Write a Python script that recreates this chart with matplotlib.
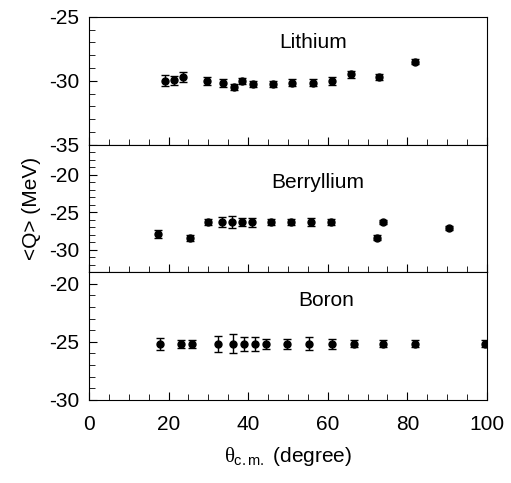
import numpy as np
import matplotlib
matplotlib.use("Agg")
from matplotlib import pyplot as plt
from matplotlib.ticker import MultipleLocator

plt.rcParams['font.family'] = ['Liberation Sans', 'DejaVu Sans']
plt.rcParams['axes.unicode_minus'] = False
plt.rcParams['mathtext.fontset'] = 'custom'
plt.rcParams['mathtext.rm'] = 'Liberation Sans'
plt.rcParams['mathtext.it'] = 'Liberation Serif'

# Lithium
li_x = [19.1, 21.4, 23.6, 29.6, 33.8, 36.5, 38.4, 41.2, 46.2, 50.9, 56.2, 61.0, 65.9, 72.9, 81.8]
li_y = [-30.0, -29.95, -29.7, -30.0, -30.2, -30.47, -30.0, -30.26, -30.26, -30.15, -30.15, -30.0, -29.5, -29.7, -28.5]
li_e = [0.45, 0.35, 0.4, 0.3, 0.3, 0.25, 0.25, 0.25, 0.25, 0.25, 0.3, 0.3, 0.3, 0.25, 0.2]

# Berryllium
be_x = [17.4, 25.4, 30.0, 33.5, 36.0, 38.4, 40.9, 45.7, 50.8, 55.9, 60.9, 72.3, 73.9, 90.4]
be_y = [-27.93, -28.4, -26.33, -26.33, -26.33, -26.33, -26.33, -26.33, -26.33, -26.33, -26.33, -28.4, -26.33, -27.13]
be_e = [0.5, 0.4, 0.4, 0.7, 0.8, 0.5, 0.6, 0.4, 0.4, 0.5, 0.4, 0.3, 0.3, 0.3]

# Boron
b_x = [17.9, 23.2, 25.9, 32.4, 36.3, 38.9, 41.6, 44.4, 49.8, 55.3, 61.1, 66.7, 74.0, 82.0, 99.6]
b_y = [-25.17, -25.17, -25.17, -25.17, -25.17, -25.17, -25.17, -25.17, -25.17, -25.17, -25.17, -25.17, -25.17, -25.17, -25.17]
b_e = [0.53, 0.33, 0.35, 0.72, 0.82, 0.6, 0.63, 0.46, 0.46, 0.55, 0.46, 0.3, 0.3, 0.3, 0.3]

names = ['Lithium', 'Berryllium', 'Boron']
ylims = [(-35, -25), (-33, -16), (-30, -19)]
yticks = [[-35, -30, -25], [-30, -25, -20], [-30, -25, -20]]
name_pos = [(56.3, 0.8), (57.4, 0.7), (59.5, 0.775)]
data = [(li_x, li_y, li_e), (be_x, be_y, be_e), (b_x, b_y, b_e)]

fig = plt.figure(figsize=(5.11, 4.83), dpi=100)
gs = fig.add_gridspec(3, 1, left=0.174, right=0.953, top=0.965, bottom=0.172, hspace=0)

for i in range(3):
    ax = fig.add_subplot(gs[i])
    x, y, e = data[i]
    ax.errorbar(x, y, yerr=e, fmt='o', color='black', ms=5, capsize=3, elinewidth=1, capthick=1)
    ax.set_xlim(0, 100)
    ax.set_ylim(*ylims[i])
    ax.set_yticks(yticks[i])
    ax.yaxis.set_minor_locator(MultipleLocator(1))
    ax.xaxis.set_major_locator(MultipleLocator(20))
    ax.xaxis.set_minor_locator(MultipleLocator(5))
    ax.tick_params(which='both', direction='in', top=False, right=False, labelsize=15)
    ax.tick_params(which='major', length=6)
    ax.tick_params(which='minor', length=4)
    ax.tick_params(axis='y', pad=7)
    ax.tick_params(axis='x', pad=11)
    if i < 2:
        ax.tick_params(labelbottom=False)
    tx, ty = name_pos[i]
    ax.text(tx, ty, names[i], transform=ax.get_xaxis_transform(), ha='center', va='center', fontsize=15)
    if i == 1:
        ax.set_ylabel('<Q> (MeV)', fontsize=15, labelpad=6)
    if i == 2:
        ax.set_xlabel(r'$\mathit{\theta}_{\mathrm{c.m.}}$ (degree)', fontsize=15, labelpad=8)

fig.savefig('out.png', dpi=100)
